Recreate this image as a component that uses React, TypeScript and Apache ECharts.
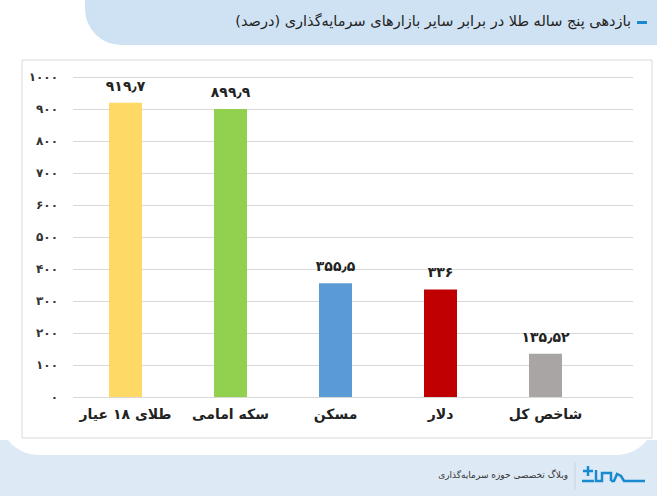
import React, { useEffect, useRef } from "react";
import * as echarts from "echarts";

const title = "بازدهی پنج ساله طلا در برابر سایر بازارهای سرمایه‌گذاری (درصد)";
const categories = ["طلای ۱۸ عیار", "سکه امامی", "مسکن", "دلار", "شاخص کل"];
const values = [919.7, 899.9, 355.5, 336, 135.52];
const barColors = ["#ffd966", "#92d050", "#5b9bd5", "#c00000", "#a9a5a5"];
const yTicks = { min: 0, max: 1000, interval: 100 };
const footerText = "وبلاگ تخصصی حوزه سرمایه‌گذاری";

const FA = "DejaVu Sans, Noto Sans, sans-serif";
const toFa = (v: number | string) =>
  String(v)
    .replace(/\./g, "٫")
    .replace(/[0-9]/g, (d) => "۰۱۲۳۴۵۶۷۸۹"[Number(d)]);

export default function App() {
  const ref = useRef<HTMLDivElement>(null);
  useEffect(() => {
    if (!ref.current) return;
    const chart = echarts.init(ref.current, null, { renderer: "svg" });
    const blue = "#1a8ad0";
    chart.setOption({
      animation: false,
      backgroundColor: "#ffffff",
      graphic: [
        { type: "rect", z: -10, shape: { x: 0, y: 440, width: 657, height: 56 }, style: { fill: "#dde9f5" } },
        { type: "rect", z: -9, shape: { x: 0, y: -30, width: 655, height: 485, r: [0, 0, 38, 38] }, style: { fill: "#ffffff" } },
        { type: "rect", z: -8, shape: { x: 85, y: 0, width: 572, height: 45, r: [0, 0, 0, 36] }, style: { fill: "#cfe2f3" } },
        { type: "rect", z: -7, shape: { x: 22, y: 60, width: 630, height: 378 }, style: { fill: "#ffffff", stroke: "#d9d9d9", lineWidth: 1 } },
        { type: "rect", z: 5, shape: { x: 637, y: 21, width: 10, height: 3 }, style: { fill: blue } },
        {
          type: "text", z: 5, x: 631, y: 21,
          style: { text: title, font: `14.5px ${FA}`, fill: "#222", align: "right", verticalAlign: "middle" },
        },
        { type: "line", z: 5, shape: { x1: 575, y1: 462, x2: 575, y2: 490 }, style: { stroke: "#c8d4df", lineWidth: 1 } },
        {
          type: "text", z: 5, x: 568, y: 475,
          style: { text: footerText, font: `9px ${FA}`, fill: "#333", align: "right", verticalAlign: "middle" },
        },
        // logo strokes
        { type: "polyline", z: 5, shape: { points: [[645, 481], [624, 481], [621, 476], [617, 474], [614, 481], [611, 481]] }, style: { stroke: blue, fill: "none", lineWidth: 2.5 } },
        { type: "polyline", z: 5, shape: { points: [[611, 481], [611, 473], [602, 473], [602, 481], [596, 481], [596, 470]] }, style: { stroke: blue, fill: "none", lineWidth: 2.5 } },
        { type: "line", z: 5, shape: { x1: 582, y1: 481, x2: 594, y2: 481 }, style: { stroke: blue, lineWidth: 2.5 } },
        { type: "line", z: 5, shape: { x1: 583, y1: 471, x2: 593, y2: 471 }, style: { stroke: blue, lineWidth: 2.5 } },
        { type: "line", z: 5, shape: { x1: 588, y1: 466, x2: 588, y2: 476 }, style: { stroke: blue, lineWidth: 2.5 } },
      ],
      grid: [
        { left: 73, right: 28, top: 77, bottom: 102 },
        { left: 73, width: 525, top: 77, bottom: 102 },
      ],
      xAxis: [
        { type: "value", gridIndex: 0, show: false },
        {
          type: "category",
          gridIndex: 1,
          data: categories,
          axisLine: { show: false },
          axisTick: { show: false },
          axisLabel: { interval: 0, margin: 10, fontFamily: FA, fontSize: 14, fontWeight: "bold", color: "#222" },
        },
      ],
      yAxis: [
        {
          type: "value",
          gridIndex: 0,
          min: yTicks.min,
          max: yTicks.max,
          interval: yTicks.interval,
          axisLine: { show: false },
          axisTick: { show: false },
          splitLine: { lineStyle: { color: "#d9d9d9" } },
          axisLabel: { margin: 15, fontFamily: FA, fontSize: 12, fontWeight: "bold", color: "#333", formatter: (v: number) => toFa(v) },
        },
        { type: "value", gridIndex: 1, min: yTicks.min, max: yTicks.max, interval: yTicks.interval, show: false, splitLine: { show: false } },
      ],
      series: [
        {
          type: "bar",
          xAxisIndex: 1,
          yAxisIndex: 1,
          barWidth: 33,
          data: values.map((v, i) => ({ value: v, itemStyle: { color: barColors[i] } })),
          label: {
            show: true,
            position: "top",
            distance: 10,
            fontFamily: FA,
            fontSize: 14,
            fontWeight: "bold",
            color: "#222",
            formatter: (p: any) => toFa(p.value),
          },
        },
      ],
    });
    return () => chart.dispose();
  }, []);
  return <div ref={ref} style={{ width: 661, height: 499, position: "fixed", left: 0, top: 0 }} />;
}
